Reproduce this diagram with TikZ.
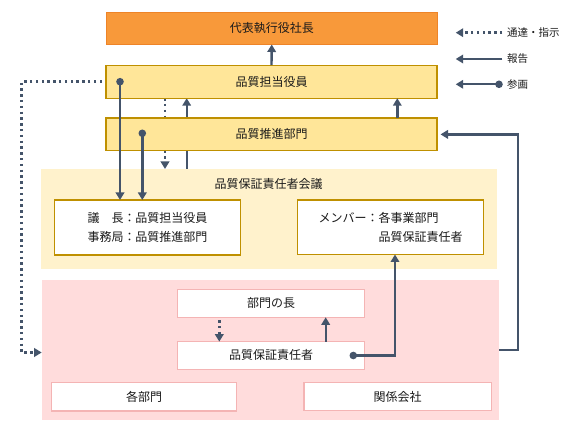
\documentclass[tikz,border=0pt]{standalone}
\usepackage{fontspec}
\setmainfont{Noto Sans CJK JP}
\usetikzlibrary{arrows.meta,backgrounds}
\definecolor{conn}{HTML}{44546A}
\definecolor{orgfill}{HTML}{F8993A}
\definecolor{orgline}{HTML}{EE8428}
\definecolor{yelfill}{HTML}{FFE699}
\definecolor{yelline}{HTML}{BF9000}
\definecolor{meetfill}{HTML}{FFF2CC}
\definecolor{pinkfill}{HTML}{FFDCDC}
\definecolor{pinkline}{HTML}{F4B4B4}
\definecolor{txt}{HTML}{1A1A1A}
\begin{document}
\begin{tikzpicture}[x=1pt,y=-1pt,
  every node/.style={inner sep=0pt,outer sep=0pt,text=txt,font=\fontsize{12}{19}\selectfont},
  topbox/.style={fill=orgfill,draw=orgline,line width=1pt},
  ybox/.style={fill=yelfill,draw=yelline,line width=1.2pt},
  wbox/.style={fill=white,draw=yelline,line width=1.2pt},
  pbox/.style={fill=white,draw=pinkline,line width=1.2pt},
  band/.style={draw=none},
  legtext/.style={anchor=west,font=\fontsize{10.5}{12}\selectfont},
  solidarr/.style={draw=conn,line width=2.4pt,-{Triangle[width=8.5pt,length=7.5pt]}},
  dotarr/.style={solidarr,line width=2.6pt,dash pattern=on 2.4pt off 3.4pt},
  plainline/.style={draw=conn,line width=2.4pt}
]
\useasboundingbox (0,0) rectangle (574,430);

% bands
\node[band,fill=meetfill,minimum width=456.8pt,minimum height=100.3pt] (meet) at (268.9,219.15) {};
\node[band,fill=pinkfill,minimum width=457.3pt,minimum height=140pt] (pink) at (270.35,350) {};
\node (meettitle) at (268.5,184) {品質保証責任者会議};

% top boxes
\node[topbox,minimum width=331.5pt,minimum height=32pt] (ceo) at (271.75,28.5) {代表執行役社長};
\node[ybox,minimum width=331pt,minimum height=33pt] (exec) at (271.5,81.7) {品質担当役員};
\node[ybox,minimum width=331pt,minimum height=32.7pt] (prom) at (271.5,134.4) {品質推進部門};

% meeting inner boxes
\node[wbox,minimum width=186.4pt,minimum height=55pt,align=left] (lbox) at (147.5,227.5)
  {議\hphantom{議}長：品質担当役員\\事務局：品質推進部門};
\node[wbox,minimum width=185.6pt,minimum height=54.5pt,align=left] (rbox) at (390.5,227.25)
  {メンバー：各事業部門\\\hphantom{メンバー：}品質保証責任者};

% pink inner boxes
\node[pbox,minimum width=186.6pt,minimum height=28pt] (head) at (271,303.3) {部門の長};
\node[pbox,minimum width=186.6pt,minimum height=27.5pt] (qa) at (271,355.4) {品質保証責任者};
\node[pbox,minimum width=185pt,minimum height=28.3pt] (depts) at (144.15,396.85) {各部門};
\node[pbox,minimum width=187.3pt,minimum height=28pt] (affil) at (397.65,396.7) {関係会社};

% helper coordinates
\coordinate (c1) at (120,81.7);
\coordinate (c2) at (142.3,133.3);
\coordinate (c3) at (353.3,355.5);
\coordinate (d1) at (165,0);
\coordinate (u1) at (186.7,0);
\coordinate (u2) at (397.3,0);
\coordinate (rr) at (518,0);
\coordinate (ll) at (21.7,352.5);
\coordinate (m1) at (219.3,0);
\coordinate (m2) at (325.7,0);
\coordinate (r3) at (395,0);

% connectors passing behind the promotion box
\begin{pgfonlayer}{background}
\draw[dotarr] (exec.south -| d1) -- (meet.north -| d1);
\draw[solidarr] (meet.north -| u1) -- (exec.south -| u1);
\end{pgfonlayer}

% connectors
\draw[solidarr] (exec.north) -- (ceo.south);
\draw[solidarr] (prom.north -| u2) -- (exec.south -| u2);
\draw[dotarr,shorten <=4pt] (exec.west) -| (ll) -- (ll -| pink.west);
\fill[conn] (c1) circle (3.8pt);
\draw[solidarr] (c1) -- (c1 |- lbox.north);
\fill[conn] (c2) circle (3.8pt);
\draw[solidarr] (c2) -- (c2 |- lbox.north);
\draw[solidarr,shorten >=3.5pt] (pink.east) -- (pink.east -| rr) -- (prom.east -| rr) -- (prom.east);
\draw[dotarr,shorten <=3pt] (head.south -| m1) -- (qa.north -| m1);
\draw[solidarr] (qa.north -| m2) -- (head.south -| m2);
\fill[conn] (c3) circle (3.8pt);
\draw[solidarr] (c3) -- (c3 -| r3) -- (rbox.south -| r3);

% legend
\node[legtext] (lg1) at (507,32.7) {通達・指示};
\node[legtext] (lg2) at (507,59) {報告};
\node[legtext] (lg3) at (507,84.3) {参画};
\coordinate (lg1a) at (502.3,32.7);
\coordinate (lg1b) at (455.7,32.7);
\coordinate (lg2a) at (502.3,59);
\coordinate (lg2b) at (455.7,59);
\coordinate (lg3a) at (499,84.3);
\coordinate (lg3b) at (455.7,84.3);
\draw[dotarr] (lg1a) -- (lg1b);
\draw[solidarr] (lg2a) -- (lg2b);
\fill[conn] (lg3a) circle (3.8pt);
\draw[solidarr] (lg3a) -- (lg3b);
\end{tikzpicture}
\end{document}
